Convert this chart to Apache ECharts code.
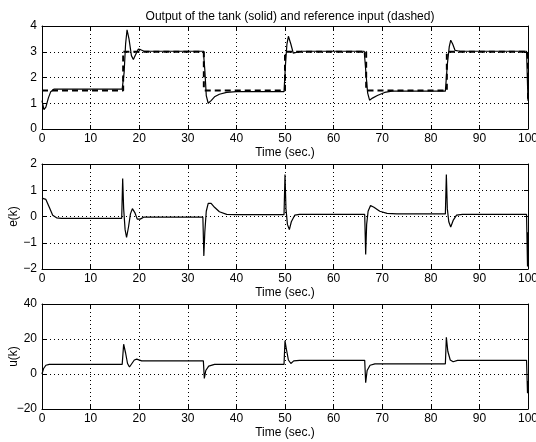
<!DOCTYPE html>
<html><head><meta charset="utf-8">
<script src="https://cdn.jsdelivr.net/npm/echarts@6/dist/echarts.min.js"></script>
<style>html,body{margin:0;padding:0;background:#fff}#c{width:536px;height:442px}</style>
</head><body><div id="c"></div>
<script>
var titleText = 'Output of the tank (solid) and reference input (dashed)';
var xLabel = 'Time (sec.)';
var xTicks = [0,10,20,30,40,50,60,70,80,90,100];

// tank output (solid)
var outT = [0,0.4,0.8,1.3,1.8,2.5,4,16.5,16.9,17.2,17.5,17.9,18.4,18.8,19.3,19.8,20.3,21,33.2,33.5,33.8,34.2,34.8,35.5,36.5,38,40,49.8,50.1,50.4,50.7,51.2,51.7,52.5,53.5,66.3,66.6,67,67.4,68,69,70.5,72,83,83.4,83.8,84.1,84.5,85,86,99.7,100];
var outY = [1.1,0.75,0.85,1.2,1.45,1.55,1.55,1.55,2.2,3.3,3.85,3.5,2.85,2.7,2.9,3.1,3.08,3.02,3.02,2.3,1.3,1.0,1.1,1.25,1.35,1.42,1.45,1.45,2.5,3.3,3.6,3.3,2.95,2.98,3.02,3.02,2.3,1.4,1.12,1.2,1.3,1.42,1.47,1.47,2.5,3.2,3.45,3.3,3.05,3.02,3.02,1.1];

// reference input (dashed)
var refT = [0,16.7,16.7,33.3,33.3,50,50,66.7,66.7,83.3,83.3,100,100];
var refY = [1.5,1.5,3,3,1.5,1.5,3,3,1.5,1.5,3,3,1.1];

// error e(k)
var errT = [0,0.2,0.8,1.5,2.2,3,4,16.4,16.6,16.8,17.1,17.4,17.8,18.2,18.6,19.1,19.6,20.2,21,33.1,33.3,33.5,33.8,34.2,34.8,35.5,36.5,38,40,49.8,50,50.2,50.5,50.9,51.3,52,53,66.4,66.6,66.8,67.1,67.6,68.3,69.5,71,73,83,83.2,83.4,83.7,84.1,84.6,85.3,86.5,99.7,99.9,100];
var errY = [0.7,0.72,0.65,0.35,0.05,-0.05,-0.07,-0.07,1.45,0.3,-0.5,-0.8,-0.4,0.1,0.3,0.15,-0.1,-0.1,-0.02,-0.02,-1.5,-0.6,0.2,0.5,0.5,0.35,0.18,0.08,0.07,0.07,1.6,0.3,-0.3,-0.5,-0.2,0.05,0.08,0.08,-1.45,-0.3,0.2,0.42,0.35,0.2,0.12,0.1,0.1,1.6,0.3,-0.2,-0.4,-0.15,0.05,0.08,0.08,-1.9,-0.6];

// control u(k)
var ctlT = [0,0.3,0.8,1.5,16.5,16.8,17.2,17.6,18,18.5,19,19.5,20.5,21.5,33.2,33.4,33.7,34.3,35.5,49.8,50,50.3,50.7,51.2,51.8,53,66.4,66.6,66.9,67.5,68.5,83,83.2,83.5,84,84.6,85.5,99.7,99.9,100];
var ctlY = [0,3,5,5.5,5.5,17,12,6,4,6,8,8.5,7.5,7.5,7.5,-2.5,2,4.5,5.5,5.5,19,14,8,6,7.5,7.8,7.8,-5,2,5,5.8,5.8,21,13,8,7,7.8,7.8,-11,-4];

var yTicksTop = [0,4,1];
var yTicksMid = [-2,2,1];
var yTicksBot = [-20,40,20];

function zip(a,b){return a.map(function(v,i){return [v,b[i]];});}
var FONT = 'Liberation Sans';
var grids = [
  {left:42,right:8,top:26,height:103,containLabel:false,outerBoundsMode:'none'},
  {left:42,right:8,top:164,height:105,containLabel:false,outerBoundsMode:'none'},
  {left:42,right:8,top:304,height:105,containLabel:false,outerBoundsMode:'none'}
];
var yr = [yTicksTop,yTicksMid,yTicksBot];
var ynames = ['','e(k)','u(k)'];
function fmt(v){return String(v).replace('-','\u2212');}
var xAxes=[], yAxes=[];
for (var g=0; g<3; g++){
  xAxes.push({type:'value',gridIndex:g,min:0,max:100,interval:10,position:'bottom',
    name:xLabel,nameLocation:'middle',nameGap:18,nameMoveOverlap:false,
    nameTextStyle:{fontFamily:FONT,fontSize:12,color:'#000'},
    axisLine:{show:true,onZero:false,lineStyle:{color:'#000',width:1}},
    axisTick:{show:true,inside:true,length:4,lineStyle:{color:'#000'}},
    axisLabel:{fontFamily:FONT,fontSize:12,color:'#000',margin:4,formatter:fmt},
    splitLine:{show:true,lineStyle:{color:'#000',width:1,type:[1,3]}}});
  xAxes.push({type:'value',gridIndex:g,min:0,max:100,interval:10,position:'top',
    axisLine:{show:true,onZero:false,lineStyle:{color:'#000',width:1}},
    axisTick:{show:true,inside:true,length:4,lineStyle:{color:'#000'}},
    axisLabel:{show:false},splitLine:{show:false}});
  yAxes.push({type:'value',gridIndex:g,min:yr[g][0],max:yr[g][1],interval:yr[g][2],position:'left',
    name:ynames[g],nameLocation:'middle',nameGap:22,nameRotate:90,nameMoveOverlap:false,
    nameTextStyle:{fontFamily:FONT,fontSize:12,color:'#000'},
    axisLine:{show:true,onZero:false,lineStyle:{color:'#000',width:1}},
    axisTick:{show:true,inside:true,length:4,lineStyle:{color:'#000'}},
    axisLabel:{fontFamily:FONT,fontSize:12,color:'#000',margin:5,formatter:fmt},
    splitLine:{show:true,lineStyle:{color:'#000',width:1,type:[1,3]}}});
  yAxes.push({type:'value',gridIndex:g,min:yr[g][0],max:yr[g][1],interval:yr[g][2],position:'right',
    axisLine:{show:true,onZero:false,lineStyle:{color:'#000',width:1}},
    axisTick:{show:true,inside:true,length:4,lineStyle:{color:'#000'}},
    axisLabel:{show:false},splitLine:{show:false}});
}
function line(data,xi,yi,w,dash){
  return {type:'line',data:data,xAxisIndex:xi,yAxisIndex:yi,showSymbol:false,symbol:'none',
    animation:false,silent:true,clip:true,
    lineStyle:{color:'#000',width:w,type:dash||'solid'}};
}
var chart = echarts.init(document.getElementById('c'),null,{renderer:'canvas'});
chart.setOption({
  animation:false,
  backgroundColor:'#fff',
  title:{text:titleText,left:285,top:6,textAlign:'center',
    textStyle:{fontFamily:FONT,fontSize:12,fontWeight:'normal',color:'#000'}},
  grid:grids,
  xAxis:xAxes,
  yAxis:yAxes,
  series:[
    line(zip(refT,refY),0,0,2,[6,4]),
    line(zip(outT,outY),0,0,1.2),
    line(zip(errT,errY),2,2,1.2),
    line(zip(ctlT,ctlY),4,4,1.2)
  ]
});
</script></body></html>
